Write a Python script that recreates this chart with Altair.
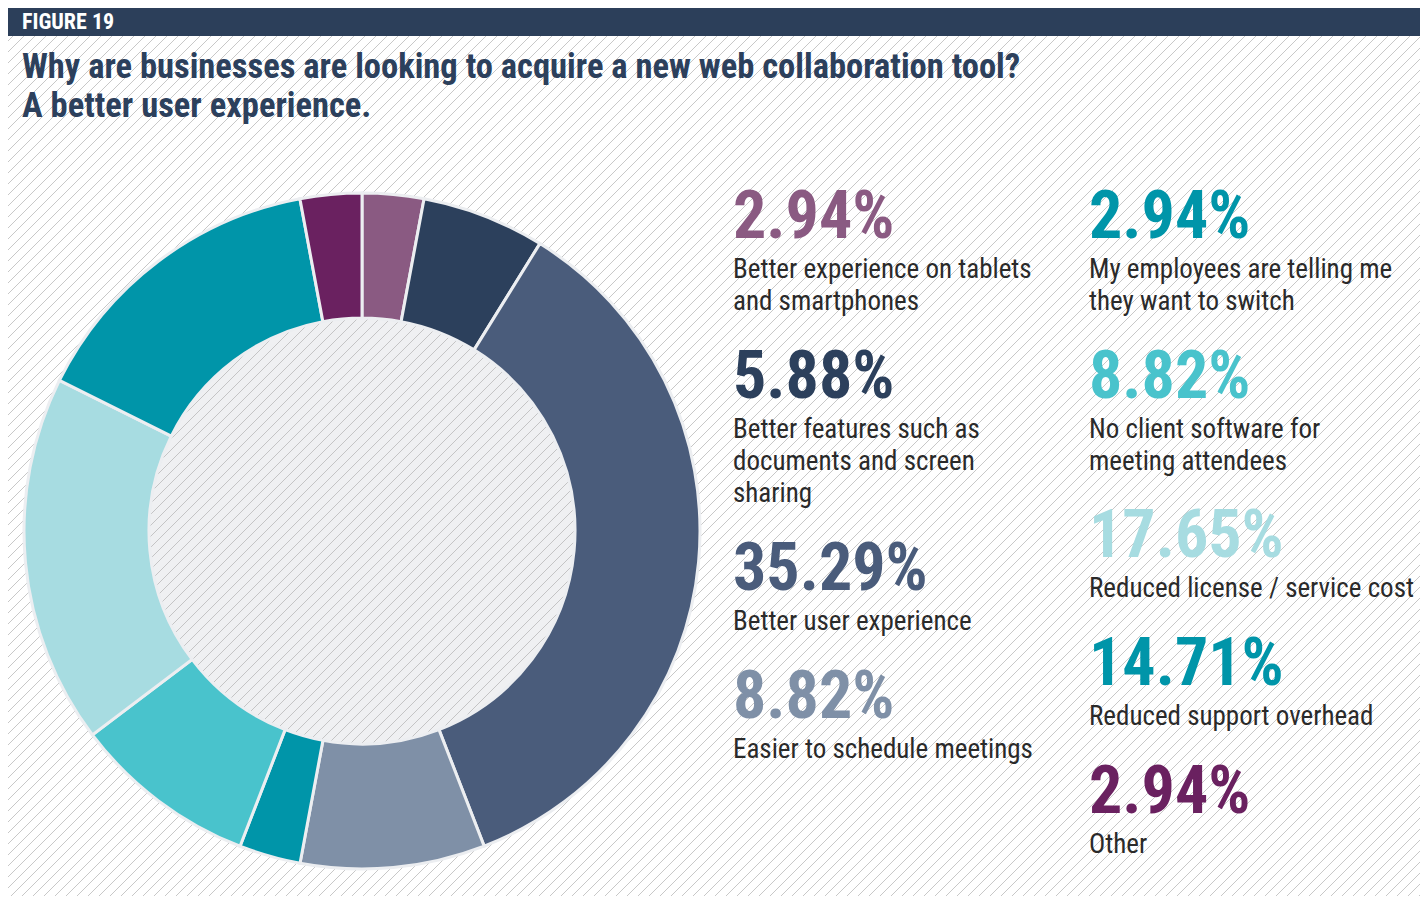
import math
import numpy as np
import pandas as pd
import altair as alt

# ---------------- data ----------------
categories = [
    "Better experience on tablets and smartphones",
    "Better features such as documents and screen sharing",
    "Better user experience",
    "Easier to schedule meetings",
    "My employees are telling me they want to switch",
    "No client software for meeting attendees",
    "Reduced license / service cost",
    "Reduced support overhead",
    "Other",
]
values = [2.94, 5.88, 35.29, 8.82, 2.94, 8.82, 17.65, 14.71, 2.94]
labels = [
    "Better experience on tablets\nand smartphones",
    "Better features such as\ndocuments and screen\nsharing",
    "Better user experience",
    "Easier to schedule meetings",
    "My employees are telling me\nthey want to switch",
    "No client software for\nmeeting attendees",
    "Reduced license / service cost",
    "Reduced support overhead",
    "Other",
]
colors = ["#8A5A82", "#2C405C", "#4A5C7B", "#7F90A7", "#0095A9",
          "#49C3CC", "#A7DCE1", "#0095A9", "#6A2160"]

title_lines = "Why are businesses are looking to acquire a new web collaboration tool?\nA better user experience."
figure_label = "FIGURE 19"

# ---------------- layout ----------------
W, H = 1412, 888
CX, CY = 354, 523
R_OUT, R_IN = 338, 213
col_x = [725, 725, 725, 725, 1081, 1081, 1081, 1081, 1081]
pct_y = [230, 390, 582, 710, 230, 390, 549, 677, 805]
LABEL_GAP = 40
FONT = "Liberation Sans Narrow, Roboto Condensed, Arial Narrow, sans-serif"
NAVY = "#2C3F5A"

X = alt.Scale(domain=[0, W], nice=False, zero=False)
Y = alt.Scale(domain=[0, H], nice=False, zero=False, reverse=True)
color_scale = alt.Scale(domain=categories, range=colors)

df = pd.DataFrame({
    "cat": categories,
    "value": values,
    "idx": list(range(len(values))),
    "label": labels,
    "pct": [f"{v:.2f}%" for v in values],
    "px": col_x,
    "py": pct_y,
})
df["ly"] = df["py"] + LABEL_GAP

one = pd.DataFrame({"a": [0]})

# background hatch (decoration)
offs = np.arange(0, W + H + 11, 11)
hatch_df = pd.DataFrame({"x": offs, "y": 0, "x2": offs - H, "y2": H})

inner = alt.Chart(one).mark_arc(
    theta=0, theta2=2 * math.pi, outerRadius=R_IN, innerRadius=0,
    fill="#EFF0F2", stroke="#E6E8EC", strokeWidth=2
).encode(x=alt.value(CX), y=alt.value(CY))

hatch = alt.Chart(hatch_df).mark_rule(
    clip=True, color="#B5B5B5", strokeWidth=1, opacity=0.75
).encode(
    x=alt.X("x:Q", scale=X, axis=None),
    x2="x2:Q",
    y=alt.Y("y:Q", scale=Y, axis=None),
    y2="y2:Q",
)

arcs = alt.Chart(df).mark_arc(
    innerRadius=R_IN, outerRadius=R_OUT, stroke="#ECEEF1", strokeWidth=3
).encode(
    theta=alt.Theta("value:Q", stack=True),
    order=alt.Order("idx:Q"),
    color=alt.Color("cat:N", scale=color_scale, legend=None),
    x=alt.value(CX),
    y=alt.value(CY),
)

header = alt.Chart(one).mark_rect(color=NAVY).encode(
    x=alt.value(0), x2=alt.value(W), y=alt.value(0), y2=alt.value(28)
)
header_text = alt.Chart(one).mark_text(
    align="left", baseline="alphabetic", font=FONT, fontSize=22,
    fontWeight="bold", color="white"
).encode(x=alt.value(14), y=alt.value(21), text=alt.value(figure_label))

title = alt.Chart(one).mark_text(
    align="left", baseline="alphabetic", font=FONT, fontSize=34.5,
    fontWeight="bold", color="#2C405C", lineBreak="\n", lineHeight=39
).encode(x=alt.value(14), y=alt.value(70), text=alt.value(title_lines))

pct_text = alt.Chart(df).mark_text(
    align="left", baseline="alphabetic", font=FONT, fontSize=66,
    fontWeight="bold"
).encode(
    x=alt.X("px:Q", scale=X, axis=None),
    y=alt.Y("py:Q", scale=Y, axis=None),
    text="pct:N",
    color=alt.Color("cat:N", scale=color_scale, legend=None),
)

label_text = alt.Chart(df).mark_text(
    align="left", baseline="alphabetic", font=FONT, fontSize=27,
    color="#2A2A2A", lineBreak="\n", lineHeight=32
).encode(
    x=alt.X("px:Q", scale=X, axis=None),
    y=alt.Y("ly:Q", scale=Y, axis=None),
    text="label:N",
)

chart = alt.layer(
    inner, hatch, arcs, header, header_text, title, pct_text, label_text
).properties(
    width=W, height=H, padding=0, autosize=alt.AutoSizeParams(type="none"),
    background="white"
).configure_view(strokeWidth=0)

chart.save("out.html", embed_options={"renderer": "svg", "actions": False})
